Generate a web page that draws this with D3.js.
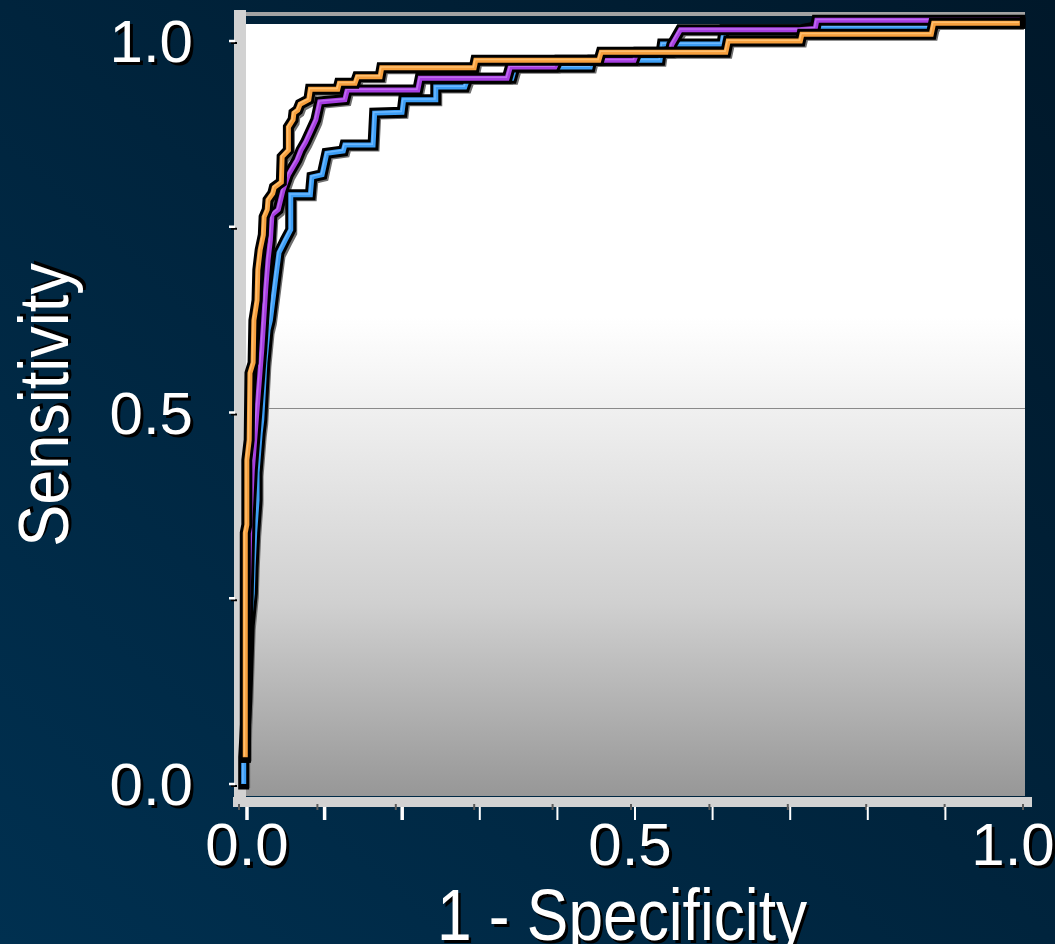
<!DOCTYPE html>
<html>
<head>
<meta charset="utf-8">
<script src="https://cdn.jsdelivr.net/npm/d3@7"></script>
<style>
  html, body { margin: 0; padding: 0; background: #00233d; overflow: hidden; }
  text { font-family: "Liberation Sans", Arial, sans-serif; }
</style>
</head>
<body>
<div id="chart"></div>
<script>
// ROC curves, values as [1 - specificity, sensitivity]
const rocBlue = [
  [0.006, 0.000], [0.006, 0.036], [0.010, 0.113], [0.013, 0.213], [0.017, 0.257],
  [0.018, 0.292], [0.020, 0.338], [0.023, 0.382], [0.023, 0.419], [0.027, 0.472],
  [0.029, 0.490], [0.033, 0.567], [0.037, 0.611], [0.040, 0.624], [0.046, 0.674],
  [0.051, 0.715], [0.059, 0.732], [0.066, 0.746], [0.066, 0.793], [0.091, 0.793],
  [0.093, 0.817], [0.106, 0.820], [0.112, 0.849], [0.133, 0.852], [0.135, 0.860],
  [0.171, 0.860], [0.173, 0.903], [0.208, 0.904], [0.210, 0.921], [0.251, 0.921],
  [0.251, 0.938], [0.288, 0.938], [0.292, 0.950], [0.348, 0.950], [0.352, 0.965],
  [0.448, 0.965], [0.450, 0.974], [0.537, 0.974], [0.540, 0.996], [0.616, 0.996],
  [0.619, 1.015], [0.716, 1.015], [0.735, 1.019], [0.885, 1.019], [0.888, 1.024],
  [0.996, 1.024]
];
const rocPurple = [
  [0.008, 0.036], [0.010, 0.180], [0.014, 0.355], [0.017, 0.423], [0.020, 0.463],
  [0.024, 0.517], [0.029, 0.584], [0.034, 0.665], [0.037, 0.705], [0.040, 0.732],
  [0.042, 0.766], [0.050, 0.773], [0.056, 0.799], [0.063, 0.820], [0.074, 0.840],
  [0.079, 0.853], [0.085, 0.864], [0.092, 0.880], [0.098, 0.894], [0.103, 0.918],
  [0.135, 0.921], [0.138, 0.934], [0.228, 0.934], [0.231, 0.950], [0.342, 0.950],
  [0.346, 0.965], [0.403, 0.965], [0.407, 0.974], [0.504, 0.974], [0.508, 0.985],
  [0.550, 0.985], [0.552, 0.995], [0.557, 1.004], [0.563, 1.015], [0.714, 1.015],
  [0.735, 1.017], [0.737, 1.028], [0.996, 1.028]
];
const rocOrange = [
  [0.008, 0.036], [0.008, 0.338], [0.010, 0.349], [0.010, 0.436], [0.013, 0.463],
  [0.014, 0.553], [0.018, 0.567], [0.019, 0.624], [0.023, 0.651], [0.024, 0.692],
  [0.027, 0.719], [0.031, 0.739], [0.032, 0.763], [0.036, 0.773], [0.037, 0.786],
  [0.043, 0.795], [0.045, 0.803], [0.054, 0.810], [0.055, 0.844], [0.063, 0.853],
  [0.063, 0.884], [0.069, 0.894], [0.070, 0.903], [0.075, 0.907], [0.078, 0.915],
  [0.089, 0.921], [0.091, 0.935], [0.126, 0.935], [0.128, 0.943], [0.148, 0.943],
  [0.151, 0.952], [0.180, 0.952], [0.182, 0.964], [0.300, 0.964], [0.302, 0.974],
  [0.459, 0.974], [0.462, 0.985], [0.621, 0.985], [0.624, 1.000], [0.716, 1.000],
  [0.718, 1.009], [0.883, 1.009], [0.886, 1.024], [0.996, 1.024]
];
const seriesColors = ["#3d9ef5", "#a63ee0", "#f7a03e"];
const seriesHighlights = ["#6cb8ff", "#c06cf0", "#ffbf6e"];

const yTickValues = [0, 0.25, 0.5, 0.75, 1];
const yTickLabels = ["0.0", "0.5", "1.0"];
const yLabelValues = [0, 0.5, 1];
const xTickValues = [0, 0.1, 0.2, 0.3, 0.4, 0.5, 0.6, 0.7, 0.8, 0.9, 1];
const xTickLabels = ["0.0", "0.5", "1.0"];
const xLabelValues = [0, 0.5, 1];

const W = 1055, H = 944;

const svg = d3.select("#chart").append("svg")
  .attr("width", W).attr("height", H)
  .attr("viewBox", [0, 0, W, H]);

const defs = svg.append("defs");
const bg = defs.append("linearGradient").attr("id", "bg")
  .attr("x1", 1).attr("y1", 0).attr("x2", 0).attr("y2", 1);
bg.append("stop").attr("offset", 0).attr("stop-color", "#00182a");
bg.append("stop").attr("offset", 1).attr("stop-color", "#003050");

const pg = defs.append("linearGradient").attr("id", "plotbg")
  .attr("x1", 0).attr("y1", 0).attr("x2", 0).attr("y2", 1);
pg.append("stop").attr("offset", 0).attr("stop-color", "#ffffff");
pg.append("stop").attr("offset", 0.38).attr("stop-color", "#ffffff");
pg.append("stop").attr("offset", 0.75).attr("stop-color", "#d0d0d0");
pg.append("stop").attr("offset", 1).attr("stop-color", "#979797");

svg.append("rect").attr("width", W).attr("height", H).attr("fill", "url(#bg)");

const x = d3.scaleLinear().domain([0, 1]).range([239, 1023]);
const y = d3.scaleLinear().domain([0, 1]).range([784, 41]);
// the white tick marks and the labels sit a little off the gray marks
const xTickPos = d3.scaleLinear().domain([0, 1]).range([247, 1023]);
const xLabelPos = d3.scaleLinear().domain([0, 1]).range([247, 1013]);

// plot box
svg.append("rect").attr("x", 246).attr("y", 24).attr("width", 779).attr("height", 772)
  .attr("fill", "url(#plotbg)");
svg.append("rect").attr("x", 246).attr("y", 12).attr("width", 779).attr("height", 4)
  .attr("fill", "#a3a3a3");
svg.append("rect").attr("x", 234).attr("y", 10).attr("width", 12).attr("height", 796)
  .attr("fill", "#d2d2d2");
svg.append("rect").attr("x", 233).attr("y", 797).attr("width", 799).attr("height", 10)
  .attr("fill", "#d2d2d2");

// 0.5 reference line
svg.append("line")
  .attr("x1", 246).attr("x2", 1025)
  .attr("y1", Math.round(y(0.5)) - 4.5).attr("y2", Math.round(y(0.5)) - 4.5)
  .attr("stroke", "#8a8a8a").attr("stroke-width", 1);

function shadowText(g, str, attrs) {
  const s = g.append("text").text(str).attr("fill", "#000");
  const t = g.append("text").text(str).attr("fill", "#fff");
  for (const k in attrs) { s.attr(k, attrs[k]); t.attr(k, attrs[k]); }
  s.attr("dx", 3).attr("dy", 3);
  return t;
}

// y axis ticks and labels
const yAxis = svg.append("g");
yTickValues.forEach(v => {
  yAxis.append("line").attr("x1", 231).attr("x2", 237)
    .attr("y1", y(v) + 2).attr("y2", y(v) + 2).attr("stroke", "#000").attr("stroke-width", 2);
  yAxis.append("line").attr("x1", 229).attr("x2", 235)
    .attr("y1", y(v)).attr("y2", y(v)).attr("stroke", "#fff").attr("stroke-width", 2.5);
});
yLabelValues.forEach((v, i) => {
  shadowText(yAxis, yTickLabels[i], {
    x: 193, y: y(v) + 21, "text-anchor": "end", "font-size": 60
  });
});

// x axis ticks and labels
const xAxis = svg.append("g");
xTickValues.forEach((v, i) => {
  xAxis.append("line").attr("x1", x(v)).attr("x2", x(v))
    .attr("y1", 804).attr("y2", 810).attr("stroke", "#5a5a5a").attr("stroke-width", 2);
  if (i < xTickValues.length - 1) {
    xAxis.append("line").attr("x1", xTickPos(v)).attr("x2", xTickPos(v))
      .attr("y1", 807).attr("y2", 820).attr("stroke", "#fff")
      .attr("stroke-width", i < 3 ? 3.5 : 2);
  }
});
xLabelValues.forEach((v, i) => {
  shadowText(xAxis, xTickLabels[i], {
    x: xLabelPos(v), y: 865, "text-anchor": "middle", "font-size": 60
  });
});

// axis titles
const xt = svg.append("g").attr("transform", "translate(622,940) scale(0.865,1)");
shadowText(xt, "1 - Specificity", { x: 0, y: 0, "text-anchor": "middle", "font-size": 72 });
const yt = svg.append("g").attr("transform", "translate(68,405) rotate(-90) scale(0.9,1)");
shadowText(yt, "Sensitivity", { x: 0, y: 0, "text-anchor": "middle", "font-size": 70 });

// curves
const line = d3.line().x(d => x(d[0])).y(d => y(d[1]));
const curves = [rocBlue, rocPurple, rocOrange];

const shadow = svg.append("g").attr("transform", "translate(4,4)");
shadow.selectAll("path").data(curves).join("path")
  .attr("d", line).attr("fill", "none")
  .attr("stroke", "#6e6e6e").attr("stroke-width", 5)
  .attr("stroke-linejoin", "miter");

curves.forEach((c, i) => {
  const g = svg.append("g");
  g.append("path").attr("d", line(c)).attr("fill", "none")
    .attr("stroke", "#000").attr("stroke-width", 11)
    .attr("stroke-linejoin", "miter").attr("stroke-linecap", "square");
  g.append("path").attr("d", line(c)).attr("fill", "none")
    .attr("stroke", seriesColors[i]).attr("stroke-width", 5)
    .attr("stroke-linejoin", "miter").attr("stroke-linecap", "butt");
  g.append("path").attr("d", line(c)).attr("fill", "none")
    .attr("transform", "translate(-0.8,-0.8)")
    .attr("stroke", seriesHighlights[i]).attr("stroke-width", 1.5)
    .attr("stroke-linejoin", "miter").attr("stroke-linecap", "butt");
});
</script>
</body>
</html>
